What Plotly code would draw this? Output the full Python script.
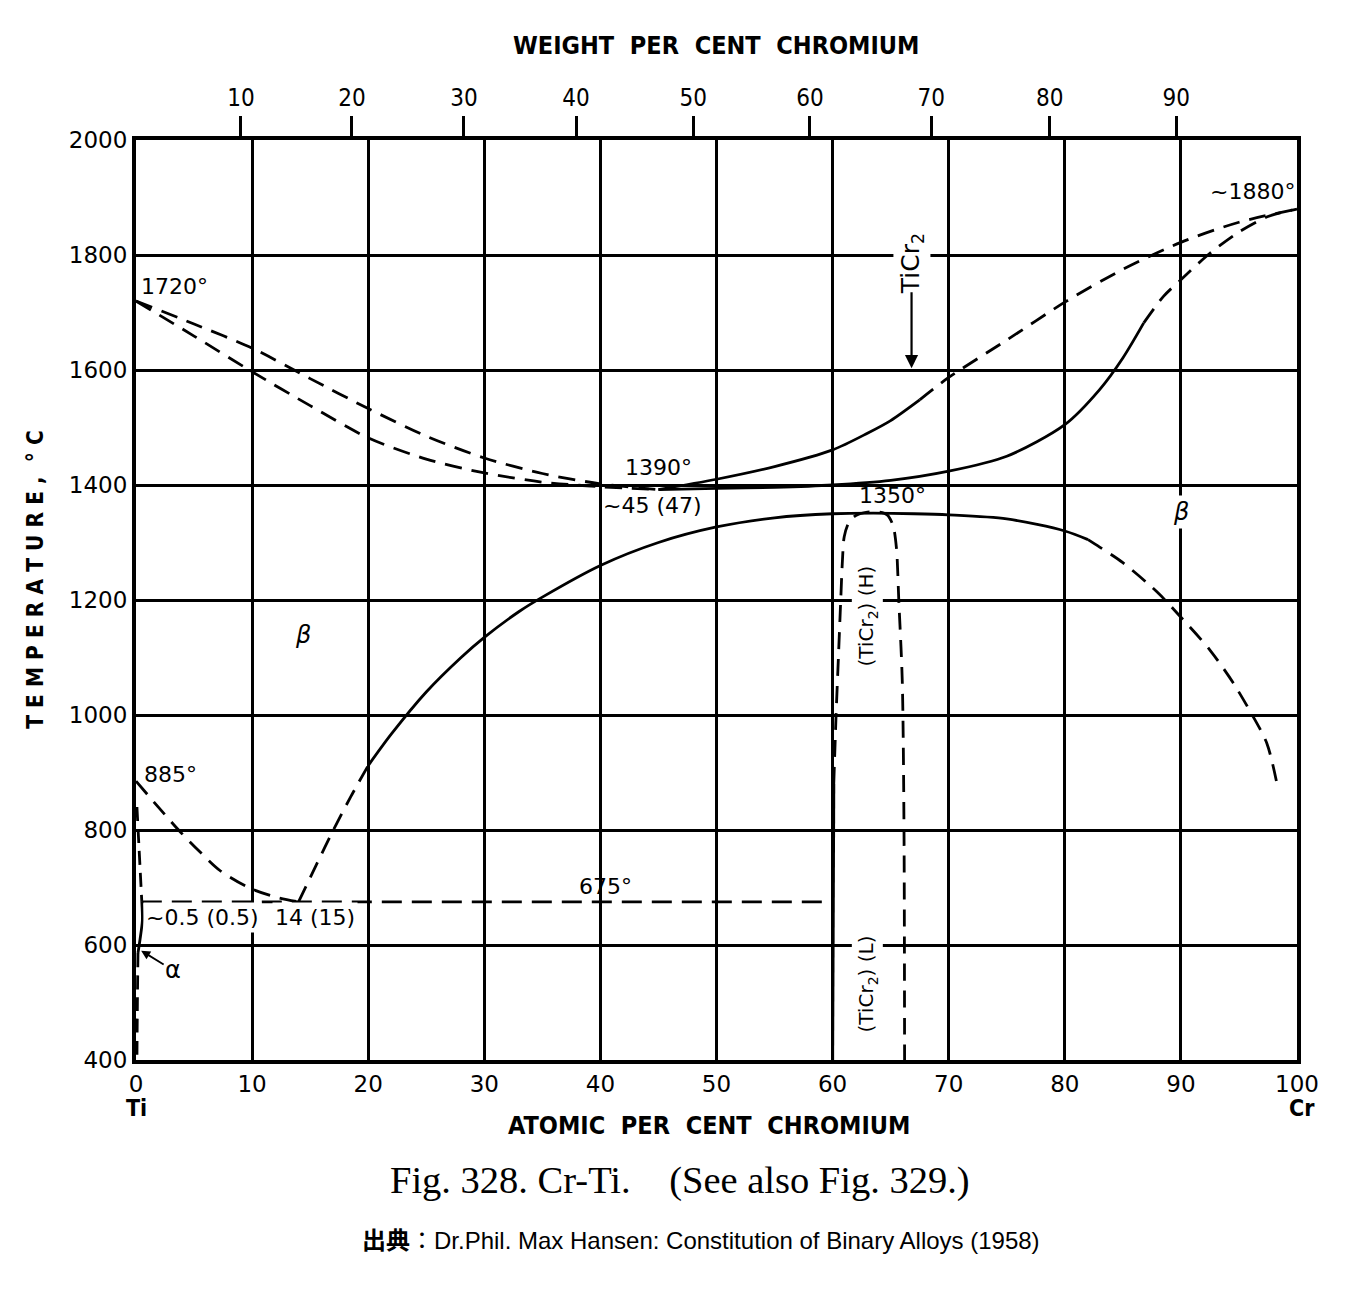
import plotly.graph_objects as go

# ---------------- data ----------------
# liquidus / solidus, Ti side (both dashed)
liq_left_x = [0, 5, 10, 15, 20, 25, 30, 35, 40, 45]
liq_left_T = [1720, 1680, 1638, 1585, 1533, 1485, 1447, 1420, 1402, 1392]
sol_left_x = [0, 5, 10, 15, 20, 25, 30, 35, 40, 45]
sol_left_T = [1720, 1659, 1597, 1538, 1482, 1445, 1421, 1405, 1397, 1392]

# liquidus, Cr side
liq_right_solid_x = [45, 50, 55, 60, 63, 65, 67.5]
liq_right_solid_T = [1392, 1410, 1432, 1461, 1490, 1512, 1548]
liq_right_dash_x = [67.5, 70, 75, 80, 85, 90, 95, 100]
liq_right_dash_T = [1548, 1587, 1652, 1718, 1775, 1822, 1857, 1880]

# solidus, Cr side
sol_right_solid_x = [45, 50, 55, 60, 65, 70, 75, 80, 83, 85, 86.8]
sol_right_solid_T = [1392, 1394, 1396, 1400, 1408, 1424, 1450, 1505, 1566, 1621, 1682]
sol_right_dash_x = [86.8, 88.5, 90, 92.5, 95, 97.5, 100]
sol_right_dash_T = [1682, 1728, 1757, 1803, 1840, 1867, 1880]

# beta / (beta + TiCr2) solvus
solv_a_x = [14, 15.5, 17, 18.5, 20]
solv_a_T = [675, 738, 800, 858, 912]
solv_b_x = [20, 22, 25, 28, 30, 33, 35, 40, 45, 50, 55, 60, 63.5, 67, 70, 75, 80, 82]
solv_b_T = [912, 967, 1040, 1100, 1135, 1180, 1205, 1260, 1300, 1327, 1343, 1350, 1351, 1350, 1348, 1341, 1320, 1305]
solv_c_x = [82, 83, 85, 88, 90, 92.5, 94.5, 96, 97.4, 98.3]
solv_c_T = [1305, 1292, 1265, 1213, 1170, 1113, 1056, 1005, 951, 878]

# beta transus (Ti side)
transus_x = [0, 2, 3.8, 5.5, 7.2, 9.8, 12.1, 14]
transus_T = [885, 838, 797, 762, 730, 699, 683, 675]

# eutectoid
eut_x = [0.5, 60]
eut_T = [675, 675]

# alpha boundaries
alpha_top_x = [0.08, 0.5]
alpha_top_T = [840, 675]
alpha_solid_x = [0.5, 0.55, 0.35, 0.17]
alpha_solid_T = [675, 643, 610, 586]
alpha_dash_x = [0.17, 0.12, 0.08]
alpha_dash_T = [586, 500, 400]

# TiCr2 field
ticr_solid_x = [60, 60.1]
ticr_solid_T = [400, 880]
ticr_dome_x = [60.1, 60.3, 60.5, 60.7, 60.85, 61.0, 61.4, 62, 63, 64, 64.7, 65.2, 65.5, 65.7, 66.0, 66.15, 66.2]
ticr_dome_T = [880, 1000, 1100, 1200, 1270, 1310, 1335, 1347, 1353, 1353, 1348, 1330, 1290, 1200, 1060, 800, 400]

# axes
at_ticks = list(range(0, 101, 10))
wt_tick_pos = [9.04, 18.6, 28.25, 37.9, 48.0, 58.05, 68.5, 78.7, 89.6]
wt_tick_text = ["10", "20", "30", "40", "50", "60", "70", "80", "90"]
T_ticks = list(range(400, 2001, 200))

# ---------------- figure ----------------
DASH = "17px,10px"
LW = 2.8
fig = go.Figure()


def add(x, y, dash=None, w=LW, smooth=True):
    fig.add_trace(go.Scatter(
        x=x, y=y, mode="lines",
        line=dict(color="black", width=w, dash=dash if dash else "solid",
                  shape="spline" if smooth else "linear", smoothing=0.8),
        hoverinfo="skip", showlegend=False))


add(liq_left_x, liq_left_T, DASH)
add(sol_left_x, sol_left_T, DASH)
add(liq_right_solid_x, liq_right_solid_T)
add(liq_right_dash_x, liq_right_dash_T, DASH)
add(sol_right_solid_x, sol_right_solid_T)
add(sol_right_dash_x, sol_right_dash_T, DASH)
add(solv_a_x, solv_a_T, DASH)
add(solv_b_x, solv_b_T)
add(solv_c_x, solv_c_T, DASH)
add(transus_x, transus_T, DASH)
add(eut_x, eut_T, "20px,10px", smooth=False)
add(alpha_top_x, alpha_top_T, "14px,8px", smooth=False)
add(alpha_solid_x, alpha_solid_T)
add(alpha_dash_x, alpha_dash_T, "14px,8px")
add(ticr_solid_x, ticr_solid_T, w=3, smooth=False)
add(ticr_dome_x, ticr_dome_T, DASH)

# invisible trace so the top axis is drawn
fig.add_trace(go.Scatter(x=[0, 100], y=[400, 400], xaxis="x2", mode="lines",
                         line=dict(width=0), opacity=0, hoverinfo="skip", showlegend=False))

LBL = "DejaVu Sans, Noto Sans, sans-serif"
COND = "DejaVu Sans Condensed, Liberation Sans Narrow, Roboto Condensed, DejaVu Sans, sans-serif"

ann = []


def txt(x, y, s, size=22, xanchor="center", bg=None, angle=0, xref="x", yref="y", font=LBL, yanchor="middle"):
    d = dict(x=x, y=y, xref=xref, yref=yref, text=s, showarrow=False,
             font=dict(family=font, size=size, color="black"),
             xanchor=xanchor, yanchor=yanchor, textangle=angle)
    if bg:
        d["bgcolor"] = bg
        d["borderpad"] = 2
    ann.append(d)


txt(0.3, 1745, "1720°", xanchor="left")
txt(0.5, 897, "885°", xanchor="left")
txt(0.6, 647, "~0.5 (0.5)", xanchor="left", bg="white")
txt(15.4, 647, "14 (15)", bg="white")
txt(40.4, 701, "675°")
txt(45.0, 1431, "1390°")
txt(44.5, 1365, "~45 (47)")
txt(65.2, 1382, "1350°")
txt(100, 1910, "~1880°", xanchor="right")
txt(14.4, 1139, "<i>β</i>", size=24)
txt(90.0, 1353, "<i>β</i>", size=24, bg="white")
txt(66.8, 1785, "TiCr<sub>2</sub>", size=25, angle=-90, bg="white")
txt(63.0, 1172, "(TiCr<sub>2</sub>) (H)", size=20, angle=-90, bg="white")
txt(63.0, 532, "(TiCr<sub>2</sub>) (L)", size=20, angle=-90, bg="white")

# arrows
ann.append(dict(x=66.8, y=1603, xref="x", yref="y", ax=66.8, ay=1738, axref="x", ayref="y",
                text="", showarrow=True, arrowhead=2, arrowsize=1.2, arrowwidth=2.2, arrowcolor="black"))
ann.append(dict(x=0.3, y=592, xref="x", yref="y", ax=3.2, ay=556, axref="x", ayref="y",
                text="α", showarrow=True, arrowhead=2, arrowsize=1, arrowwidth=1.8, arrowcolor="black",
                font=dict(family=LBL, size=24, color="black"), standoff=2))

# axis titles and captions (paper coords)
txt(0.5, 1.103, "<b>WEIGHT\u00a0\u00a0PER\u00a0\u00a0CENT\u00a0\u00a0CHROMIUM</b>", size=25, xref="paper", yref="paper", font=COND)
txt(0.494, -0.0707, "<b>ATOMIC\u00a0\u00a0PER\u00a0\u00a0CENT\u00a0\u00a0CHROMIUM</b>", size=25, xref="paper", yref="paper", font=COND)
txt(0.0, -0.052, "<b>Ti</b>", size=23, xref="paper", yref="paper", font=COND)
txt(1.004, -0.052, "<b>Cr</b>", size=23, xref="paper", yref="paper", font=COND)
txt(-0.087, 0.523, "<b>T E M P E R A T U R E ,\u00a0\u00a0° C</b>", size=22.5, angle=-90, xref="paper", yref="paper", font=COND)
txt(0.4686, -0.1315, "Fig. 328. Cr-Ti.\u00a0\u00a0\u00a0\u00a0(See also Fig. 329.)", size=38.5,
    xref="paper", yref="paper", font="Liberation Serif, DejaVu Serif, serif")
txt(0.4866, -0.1957, "<b>出典</b>：Dr.Phil. Max Hansen: Constitution of Binary Alloys (1958)", size=24,
    xref="paper", yref="paper", font="Liberation Sans, Noto Sans CJK JP, sans-serif")

axis_common = dict(showgrid=True, gridcolor="black", gridwidth=3, zeroline=False,
                   showline=True, linecolor="black", linewidth=4, mirror=True, ticks="")

fig.update_layout(
    width=1360, height=1294,
    margin=dict(l=128, r=71, t=132, b=242),
    paper_bgcolor="white", plot_bgcolor="white",
    showlegend=False, hovermode=False,
    annotations=ann,
    xaxis=dict(range=[0, 100], tickvals=at_ticks, ticktext=[str(v) for v in at_ticks],
               tickfont=dict(family=LBL, size=23, color="black"), **axis_common),
    yaxis=dict(range=[400, 2000], tickvals=T_ticks, ticktext=[str(v) for v in T_ticks],
               tickfont=dict(family=LBL, size=23, color="black"), **axis_common),
    xaxis2=dict(overlaying="x", side="top", range=[0, 100], tickvals=wt_tick_pos, ticktext=wt_tick_text,
                ticks="outside", ticklen=23, tickwidth=2.5, tickcolor="black",
                showgrid=False, zeroline=False, showline=False,
                tickfont=dict(family=COND, size=24, color="black")),
)

fig.write_html("out.html")
